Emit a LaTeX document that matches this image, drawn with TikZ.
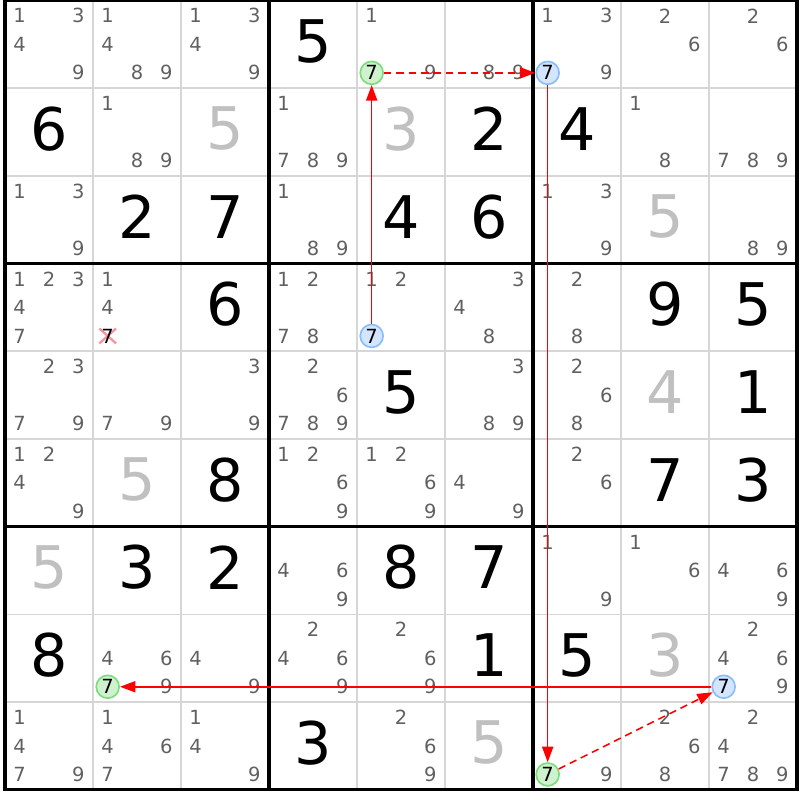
\documentclass[tikz,border=0pt]{standalone}
\usepackage{fontspec}
\setmainfont{DejaVu Sans}
\usetikzlibrary{arrows.meta}
\definecolor{candgray}{RGB}{96,96,96}
\definecolor{solvedgray}{RGB}{192,192,192}
\definecolor{gridgray}{RGB}{214,214,214}
\definecolor{greenfill}{RGB}{206,242,206}
\definecolor{greenline}{RGB}{128,220,128}
\definecolor{bluefill}{RGB}{212,230,255}
\definecolor{blueline}{RGB}{140,190,250}
\definecolor{crosspink}{RGB}{244,150,160}

\begin{document}
\begin{tikzpicture}[x=1cm,y=-0.9966cm,
  given/.style={font=\fontsize{19}{19}\selectfont, inner sep=0pt},
  solved/.style={given, text=solvedgray},
  cand/.style={font=\fontsize{6.3}{6.3}\selectfont, text=candgray, inner sep=0pt},
  greencand/.style={circle, minimum size=0.26cm, inner sep=0pt, draw=greenline, fill=greenfill, line width=0.55pt, font=\fontsize{6.3}{6.3}\selectfont},
  bluecand/.style={greencand, draw=blueline, fill=bluefill},
  link/.style={red, line width=0.5pt, -{Triangle[length=5pt,width=3.6pt]}},
  weaklink/.style={link, dash pattern=on 2.4pt off 1.6pt}]

\useasboundingbox (-0.0568,-0.0057) rectangle (9.0341,9.1163);

% grid
\foreach \i in {1,2,4,5,7,8}
{
\draw[gridgray, line width=0.55pt] (\i,0)--(\i,9);
\draw[gridgray, line width=0.55pt] (0,\i)--(9,\i);
}
\foreach \i in {3,6}
{
\draw[black, line width=1pt] (\i,0)--(\i,9);
\draw[black, line width=1pt] (0,\i)--(9,\i);
}
\draw[black, line width=1pt] (0,0) rectangle (9,9);

% givens
\foreach \c/\r/\d in {3/0/5, 0/1/6, 5/1/2, 6/1/4, 1/2/2, 2/2/7, 4/2/4, 5/2/6, 2/3/6, 7/3/9, 8/3/5, 4/4/5, 8/4/1, 2/5/8, 7/5/7, 8/5/3, 1/6/3, 2/6/2, 4/6/8, 5/6/7, 0/7/8, 5/7/1, 6/7/5, 3/8/3}
\node[given] (g\r\c) at (\c+0.5,\r+0.465) {\d};

% solved cells
\foreach \c/\r/\d in {2/1/5, 4/1/3, 7/2/5, 7/4/4, 1/5/5, 0/6/5, 7/7/3, 5/8/5}
\node[solved] (s\r\c) at (\c+0.5,\r+0.465) {\d};

% candidates
\foreach \c/\r/\ds in {0/0/{1,3,4,9}, 1/0/{1,4,8,9}, 2/0/{1,3,4,9}, 4/0/{1,9}, 5/0/{8,9}, 6/0/{1,3,9}, 7/0/{2,6}, 8/0/{2,6},
 1/1/{1,8,9}, 3/1/{1,7,8,9}, 7/1/{1,8}, 8/1/{7,8,9},
 0/2/{1,3,9}, 3/2/{1,8,9}, 6/2/{1,3,9}, 8/2/{8,9},
 0/3/{1,2,3,4,7}, 1/3/{1,4}, 3/3/{1,2,7,8}, 4/3/{1,2}, 5/3/{3,4,8}, 6/3/{2,8},
 0/4/{2,3,7,9}, 1/4/{7,9}, 2/4/{3,9}, 3/4/{2,6,7,8,9}, 5/4/{3,8,9}, 6/4/{2,6,8},
 0/5/{1,2,4,9}, 3/5/{1,2,6,9}, 4/5/{1,2,6,9}, 5/5/{4,9}, 6/5/{2,6},
 3/6/{4,6,9}, 6/6/{1,9}, 7/6/{1,6}, 8/6/{4,6,9},
 1/7/{4,6,9}, 2/7/{4,9}, 3/7/{2,4,6,9}, 4/7/{2,6,9}, 8/7/{2,4,6,9},
 0/8/{1,4,7,9}, 1/8/{1,4,6,7}, 2/8/{1,4,9}, 4/8/{2,6,9}, 6/8/{9}, 7/8/{2,6,8}, 8/8/{2,4,7,8,9}}
{
\foreach \d in \ds
{
\pgfmathsetmacro{\dx}{mod(\d-1,3)-1}
\pgfmathsetmacro{\dy}{div(\d-1,3)-1}
\node[cand] (k\r\c\d) at (\c+0.5+0.333*\dx,\r+0.5+0.325*\dy) {\d};
}
}

% eliminated 7
\draw[crosspink, line width=0.75pt] (1.167-0.095,3.825-0.085)--(1.167+0.095,3.825+0.085);
\draw[crosspink, line width=0.75pt] (1.167-0.095,3.825+0.085)--(1.167+0.095,3.825-0.085);
\node[cand, text=black] (k317) at (1.167,3.825) {7};

% chain of 7s
\node[bluecand] (b34) at (4.167,3.825) {7};
\node[greencand] (a04) at (4.167,0.825) {7};
\node[bluecand] (b06) at (6.167,0.825) {7};
\node[greencand] (a86) at (6.167,8.825) {7};
\node[bluecand] (b78) at (8.167,7.825) {7};
\node[greencand] (a71) at (1.167,7.825) {7};

\draw[link] (b34)--(a04);
\draw[weaklink] (a04)--(b06);
\draw[link] (b06)--(a86);
\draw[weaklink] (a86)--(b78);
\draw[link] (b78)--(a71);

\end{tikzpicture}
\end{document}
